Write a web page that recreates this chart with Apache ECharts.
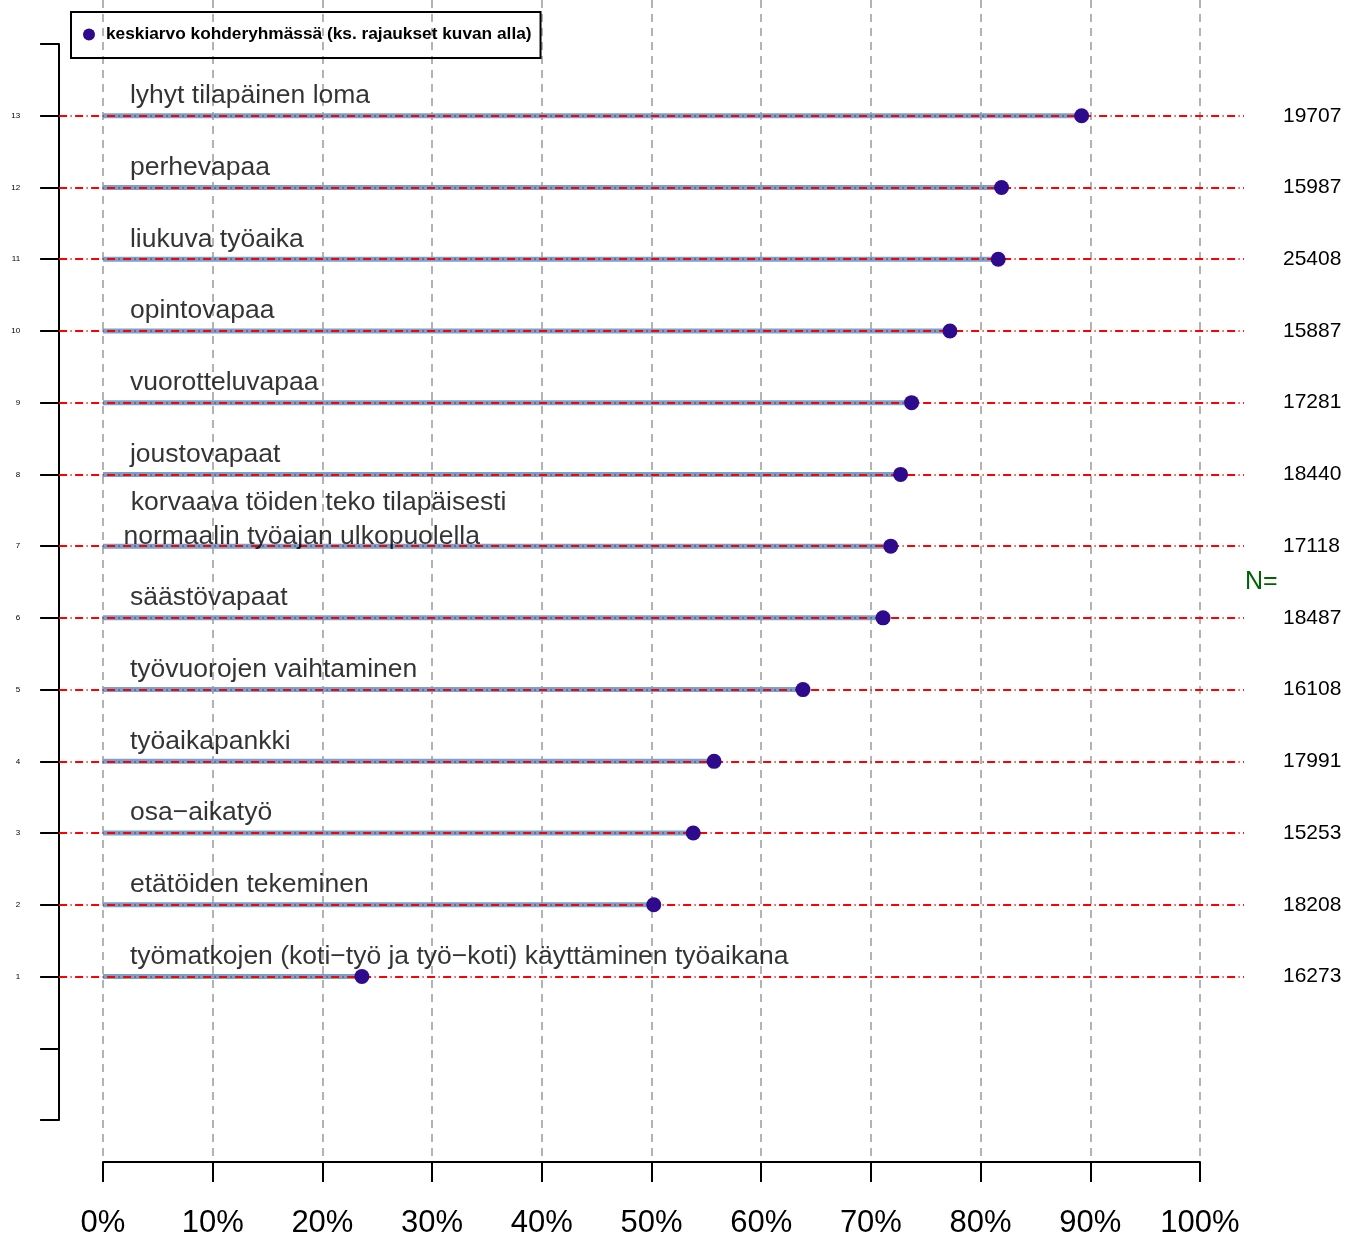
<!DOCTYPE html>
<html>
<head>
<meta charset="utf-8">
<script src="https://cdn.jsdelivr.net/npm/echarts@6/dist/echarts.min.js"></script>
<style>
  html, body { margin: 0; padding: 0; background: #fff; }
  #chart { width: 1345px; height: 1235px; }
</style>
</head>
<body>
<div id="chart"></div>
<script>
// ---- data (bottom row first, row index 1..13) ----
const categories = [
  'työmatkojen (koti−työ ja työ−koti) käyttäminen työaikana',
  'etätöiden tekeminen',
  'osa−aikatyö',
  'työaikapankki',
  'työvuorojen vaihtaminen',
  'säästövapaat',
  ' korvaava töiden teko tilapäisesti\nnormaalin työajan ulkopuolella',
  'joustovapaat',
  'vuorotteluvapaa',
  'opintovapaa',
  'liukuva työaika',
  'perhevapaa',
  'lyhyt tilapäinen loma'
];
const meanValues = [23.6, 50.2, 53.8, 55.7, 63.8, 71.1, 71.8, 72.7, 73.7, 77.2, 81.6, 81.9, 89.2];
const nValues = [16273, 18208, 15253, 17991, 16108, 18487, 17118, 18440, 17281, 15887, 25408, 15987, 19707];
const xTickValues = [0, 10, 20, 30, 40, 50, 60, 70, 80, 90, 100];
const legendName = 'keskiarvo kohderyhmässä (ks. rajaukset kuvan alla)';
const nTitle = 'N=';

// ---- chart ----
const FONT = 'Liberation Sans, Arial, Helvetica, sans-serif';
const chart = echarts.init(document.getElementById('chart'), null, { renderer: 'canvas' });

const series = [];
// blue segments from 0 to mean
categories.forEach((c, i) => {
  const row = i + 1;
  series.push({
    type: 'line',
    xAxisIndex: 1, yAxisIndex: 1,
    data: [[0, row], [meanValues[i], row]],
    symbol: 'none',
    silent: true,
    lineStyle: { color: '#74a3cf', width: 5 },
    z: 2
  });
});
// red dash-dot reference lines across the plot
series.push({
  type: 'line',
  xAxisIndex: 1, yAxisIndex: 1,
  data: [],
  silent: true,
  z: 3,
  markLine: {
    silent: true,
    symbol: 'none',
    label: { show: false },
    lineStyle: { color: '#ff0000', width: 2, type: [8, 3.5, 1, 3.5] },
    data: categories.map((c, i) => ({ yAxis: i + 1 }))
  }
});
// dots
series.push({
  name: legendName,
  type: 'scatter',
  xAxisIndex: 1, yAxisIndex: 1,
  data: meanValues.map((v, i) => [v, i + 1]),
  symbol: 'circle',
  symbolSize: 15,
  itemStyle: { color: '#2e0a8c', opacity: 1 },
  z: 5
});
// category labels above each row
series.push({
  type: 'scatter',
  xAxisIndex: 1, yAxisIndex: 1,
  silent: true,
  symbolSize: 1,
  itemStyle: { color: 'rgba(0,0,0,0)' },
  z: 6,
  data: categories.map((c, i) => {
    const multi = c.indexOf('\n') >= 0;
    return {
      value: [0, i + 1],
      label: {
        show: true,
        position: 'right',
        distance: 0,
        formatter: c,
        offset: multi ? [20, -26] : [26.5, -20],
        color: '#000',
        fontFamily: FONT,
        fontSize: 26.5,
        lineHeight: 34
      }
    };
  })
});

const option = {
  animation: false,
  backgroundColor: '#ffffff',
  legend: {
    show: true,
    data: [legendName],
    left: 71, top: 12,
    orient: 'horizontal',
    padding: [14, 9, 15, 12],
    borderColor: '#000',
    borderWidth: 2,
    itemWidth: 12, itemHeight: 12,
    itemGap: 5,
    icon: 'circle',
    selectedMode: false,
    textStyle: { fontFamily: FONT, fontSize: 17.3, fontWeight: 'bold', color: '#000', padding: [0, 0, 0, 6] }
  },
  grid: [
    // grid 0: visible percent axis with vertical gridlines
    { left: 103, right: 145, top: 0, bottom: 78, containLabel: false, outerBoundsMode: 'none' },
    // grid 1: data area
    { left: 59.1, right: 101, top: 44, bottom: 115, containLabel: false, outerBoundsMode: 'none' }
  ],
  xAxis: [
    {
      gridIndex: 0,
      type: 'value',
      min: 0, max: 100, interval: 10,
      position: 'bottom',
      offset: 5,
      axisLine: { show: true, onZero: false, lineStyle: { color: '#000', width: 2 } },
      axisTick: { show: true, length: 20, lineStyle: { color: '#000', width: 2 } },
      axisLabel: {
        show: true, margin: 46, color: '#000', fontFamily: FONT, fontSize: 31,
        formatter: v => (xTickValues.indexOf(v) >= 0 ? v + '%' : '')
      },
      splitLine: { show: true, lineStyle: { color: '#b3b3b3', width: 2, type: [8, 6] } }
    },
    {
      gridIndex: 1,
      type: 'value',
      min: -4, max: 104,
      show: false
    }
  ],
  yAxis: [
    { gridIndex: 0, type: 'value', min: 0, max: 1, show: false },
    {
      gridIndex: 1,
      type: 'value',
      min: -1, max: 14, interval: 1,
      position: 'left',
      axisLine: { show: true, onZero: false, lineStyle: { color: '#000', width: 2 } },
      axisTick: { show: true, length: 19, lineStyle: { color: '#000', width: 2 } },
      axisLabel: {
        show: true, margin: 39, color: '#000', fontFamily: FONT, fontSize: 8,
        formatter: v => (v >= 1 && v <= categories.length ? String(v) : '')
      },
      splitLine: { show: false }
    },
    {
      gridIndex: 1,
      type: 'value',
      min: -1, max: 14, interval: 1,
      position: 'right',
      axisLine: { show: false },
      axisTick: { show: false },
      axisLabel: {
        show: true, margin: 39, color: '#000', fontFamily: FONT, fontSize: 21,
        formatter: v => (v >= 1 && v <= nValues.length ? String(nValues[v - 1]) : '')
      },
      splitLine: { show: false },
      name: nTitle,
      nameLocation: 'middle',
      nameRotate: 0,
      nameGap: 1,
      nameMoveOverlap: false,
      nameTextStyle: { color: '#006400', fontFamily: FONT, fontSize: 25 }
    }
  ],
  series: series
};
chart.setOption(option);
</script>
</body>
</html>
